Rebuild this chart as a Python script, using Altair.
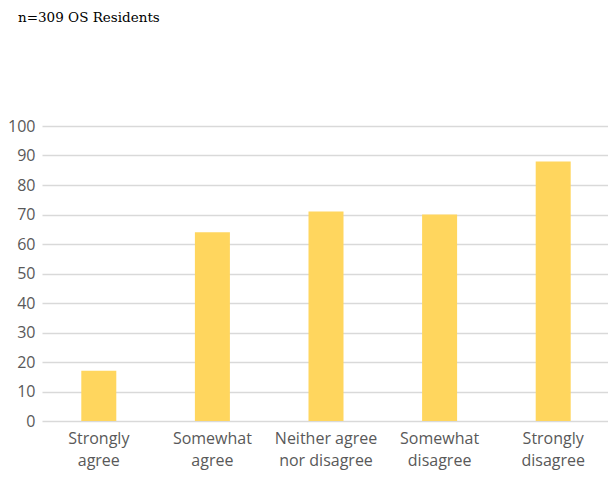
import altair as alt
import pandas as pd

categories = ["Strongly\nagree", "Somewhat\nagree", "Neither agree\nnor disagree", "Somewhat\ndisagree", "Strongly\ndisagree"]
values = [17, 64, 71, 70, 88]
y_ticks = [0, 10, 20, 30, 40, 50, 60, 70, 80, 90, 100]
title_text = "n=309 OS Residents"

df = pd.DataFrame({"cat": categories, "val": values})

chart = alt.Chart(df).mark_bar(color="#FFD65E", width=35).encode(
    x=alt.X("cat:N", sort=categories, title=None,
            scale=alt.Scale(paddingInner=0.0, paddingOuter=0.0),
            axis=alt.Axis(labelAngle=0, labelExpr="split(datum.label, '\\n')",
                          labelFont="Open Sans", labelFontSize=16, labelColor="#595959",
                          labelLineHeight=22, labelBaseline="top", labelPadding=9,
                          ticks=False, domain=False, grid=False)),
    y=alt.Y("val:Q", title=None,
            scale=alt.Scale(domain=[0, 100], nice=False),
            axis=alt.Axis(values=y_ticks, labelFont="Open Sans", labelFontSize=16,
                          labelColor="#595959", labelPadding=7, ticks=False,
                          domain=False, gridColor="#D9D9D9", gridWidth=1.3)),
).properties(
    width=568, height=295,
    title=alt.TitleParams(title_text, font="DejaVu Serif", fontSize=13.5, fontWeight="normal",
                          color="#000000", anchor="start", frame="group", dx=-24, dy=-90),
    autosize=alt.AutoSizeParams(type="none"),
    padding={"left": 34, "top": 118, "right": -2, "bottom": 50},
).configure_view(stroke=None)

chart.save("out.html", embed_options={"renderer": "svg", "actions": False})
